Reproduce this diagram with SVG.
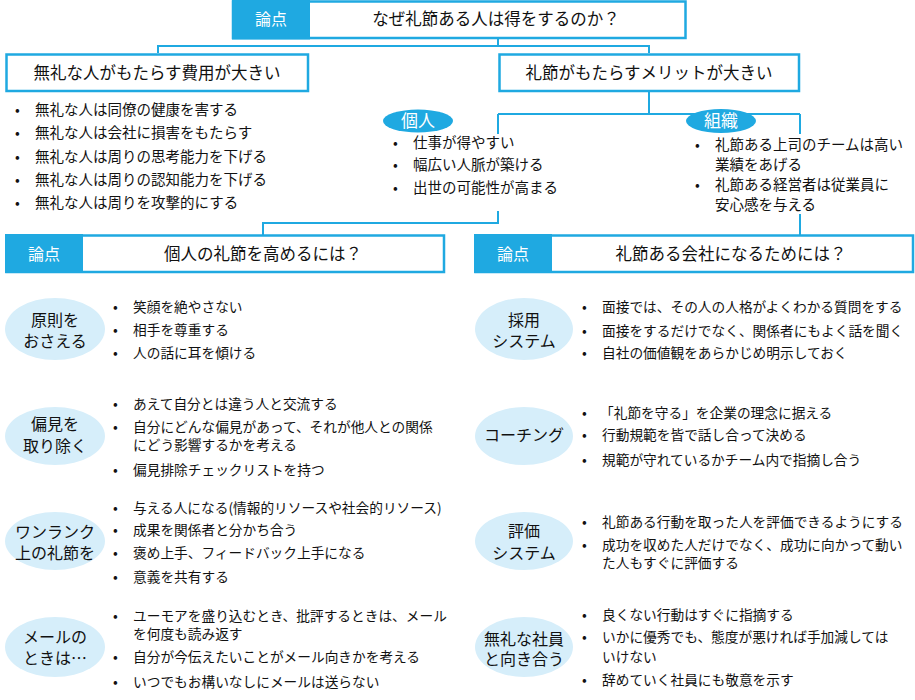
<svg xmlns="http://www.w3.org/2000/svg" width="915" height="700" viewBox="0 0 915 700">
<style>
text{font-family:"Noto Sans CJK JP","Noto Sans",sans-serif;fill:#111}
.box{fill:#fff;stroke:#1fa9e1;stroke-width:2.5}
.tag{fill:#1fa9e1}
.tagt{fill:#fff;font-size:16px;text-anchor:middle}
.h{font-size:16.5px;text-anchor:middle}
.b{font-size:14.5px}
.s{font-size:13.7px}
.bl{font-size:14px}
.conn{fill:none;stroke:#1fa9e1;stroke-width:2}
.pill{fill:#1fa9e1}
.pillt{fill:#fff;font-size:17px;text-anchor:middle}
.ov{fill:#d6eefa}
.ovt{font-size:16px;text-anchor:middle}
.mask{fill:#fff}
</style>
<g id="connectors">
<path class="conn" d="M498,39 V46 M158,53 V46 H649 V53"/>
<path class="conn" d="M649,92 V114 M498,114 H800 M498,114 V223 H263 V235 M800,114 V235"/>
</g>
<g id="q-main">
<rect class="box" x="233" y="1.5" width="452.5" height="36.5"/>
<rect class="tag" x="232" y="0" width="78" height="39.5"/>
<text class="tagt" x="271" y="25">論点</text>
<text class="h" x="496" y="25">なぜ礼節ある人は得をするのか？</text>
</g>
<g id="cost">
<rect class="box" x="6.5" y="54.5" width="301.5" height="36.5"/>
<text class="h" x="157" y="79">無礼な人がもたらす費用が大きい</text>
<g class="b">
<text x="15" y="115" class="bl">•</text><text x="35" y="115">無礼な人は同僚の健康を害する</text>
<text x="15" y="138" class="bl">•</text><text x="35" y="138">無礼な人は会社に損害をもたらす</text>
<text x="15" y="162" class="bl">•</text><text x="35" y="162">無礼な人は周りの思考能力を下げる</text>
<text x="15" y="185" class="bl">•</text><text x="35" y="185">無礼な人は周りの認知能力を下げる</text>
<text x="15" y="208" class="bl">•</text><text x="35" y="208">無礼な人は周りを攻撃的にする</text>
</g>
</g>
<g id="merit">
<rect class="box" x="499.5" y="54.5" width="299.5" height="36.5"/>
<text class="h" x="649" y="79">礼節がもたらすメリットが大きい</text>
</g>
<g id="individual">
<rect class="mask" x="390" y="134" width="175" height="77"/>
<ellipse class="pill" cx="418" cy="121" rx="35" ry="11.5"/>
<text class="pillt" x="418" y="127">個人</text>
<g class="b">
<text x="393" y="148" class="bl">•</text><text x="413" y="148">仕事が得やすい</text>
<text x="393" y="170" class="bl">•</text><text x="413" y="170">幅広い人脈が築ける</text>
<text x="393" y="193" class="bl">•</text><text x="413" y="193">出世の可能性が高まる</text>
</g>
</g>
<g id="organization">
<rect class="mask" x="690" y="134" width="215" height="80"/>
<ellipse class="pill" cx="721" cy="121" rx="35" ry="12"/>
<text class="pillt" x="721" y="127">組織</text>
<g class="b">
<text x="695" y="150" class="bl">•</text><text x="715" y="150">礼節ある上司のチームは高い<tspan x="715" y="170">業績をあげる</tspan></text>
<text x="695" y="190" class="bl">•</text><text x="715" y="190">礼節ある経営者は従業員に<tspan x="715" y="210">安心感を与える</tspan></text>
</g>
</g>
<g id="q-individual">
<rect class="box" x="6.5" y="235.5" width="437.5" height="36.5"/>
<rect class="tag" x="5" y="234" width="78" height="39"/>
<text class="tagt" x="44" y="260">論点</text>
<text class="h" x="263" y="260">個人の礼節を高めるには？</text>
</g>
<g id="q-company">
<rect class="box" x="475.5" y="235.5" width="437.5" height="36.5"/>
<rect class="tag" x="474" y="234" width="78" height="39"/>
<text class="tagt" x="513" y="260">論点</text>
<text class="h" x="731" y="260">礼節ある会社になるためには？</text>
</g>
<g id="principle">
<ellipse class="ov" cx="55" cy="329" rx="50" ry="31"/>
<text class="ovt" x="55" y="326">原則を<tspan x="55" y="347">おさえる</tspan></text>
<g class="s">
<text x="113" y="312" class="bl">•</text><text x="133" y="312">笑顔を絶やさない</text>
<text x="113" y="335" class="bl">•</text><text x="133" y="335">相手を尊重する</text>
<text x="113" y="358" class="bl">•</text><text x="133" y="358">人の話に耳を傾ける</text>
</g>
</g>
<g id="bias">
<ellipse class="ov" cx="55" cy="436" rx="50" ry="29"/>
<text class="ovt" x="55" y="430">偏見を<tspan x="55" y="452">取り除く</tspan></text>
<g class="s">
<text x="113" y="409" class="bl">•</text><text x="133" y="409">あえて自分とは違う人と交流する</text>
<text x="113" y="432" class="bl">•</text><text x="133" y="432">自分にどんな偏見があって、それが他人との関係<tspan x="133" y="450">にどう影響するかを考える</tspan></text>
<text x="113" y="475" class="bl">•</text><text x="133" y="475">偏見排除チェックリストを持つ</text>
</g>
</g>
<g id="rank">
<ellipse class="ov" cx="55" cy="541" rx="50" ry="29"/>
<text class="ovt" x="55" y="538">ワンランク<tspan x="55" y="559">上の礼節を</tspan></text>
<g class="s">
<text x="113" y="513" class="bl">•</text><text x="133" y="513">与える人になる(情報的リソースや社会的リソース)</text>
<text x="113" y="535" class="bl">•</text><text x="133" y="535">成果を関係者と分かち合う</text>
<text x="113" y="558" class="bl">•</text><text x="133" y="558">褒め上手、フィードバック上手になる</text>
<text x="113" y="582" class="bl">•</text><text x="133" y="582">意義を共有する</text>
</g>
</g>
<g id="mail">
<ellipse class="ov" cx="55" cy="647" rx="50" ry="30"/>
<text class="ovt" x="55" y="643">メールの<tspan x="55" y="664">ときは…</tspan></text>
<g class="s">
<text x="113" y="621" class="bl">•</text><text x="133" y="621">ユーモアを盛り込むとき、批評するときは、メール<tspan x="133" y="639">を何度も読み返す</tspan></text>
<text x="113" y="662" class="bl">•</text><text x="133" y="662">自分が今伝えたいことがメール向きかを考える</text>
<text x="113" y="687" class="bl">•</text><text x="133" y="687">いつでもお構いなしにメールは送らない</text>
</g>
</g>
<g id="hiring">
<ellipse class="ov" cx="524" cy="329" rx="49" ry="31"/>
<text class="ovt" x="524" y="326">採用<tspan x="524" y="347">システム</tspan></text>
<g class="s">
<text x="582" y="312" class="bl">•</text><text x="602" y="312">面接では、その人の人格がよくわかる質問をする</text>
<text x="582" y="336" class="bl">•</text><text x="602" y="336">面接をするだけでなく、関係者にもよく話を聞く</text>
<text x="582" y="358" class="bl">•</text><text x="602" y="358">自社の価値観をあらかじめ明示しておく</text>
</g>
</g>
<g id="coaching">
<ellipse class="ov" cx="524" cy="436" rx="49" ry="29"/>
<text class="ovt" x="524" y="441">コーチング</text>
<g class="s">
<text x="582" y="418" class="bl">•</text><text x="600" y="418">「礼節を守る」を企業の理念に据える</text>
<text x="582" y="440" class="bl">•</text><text x="602" y="440">行動規範を皆で話し合って決める</text>
<text x="582" y="465" class="bl">•</text><text x="602" y="465">規範が守れているかチーム内で指摘し合う</text>
</g>
</g>
<g id="evaluation">
<ellipse class="ov" cx="524" cy="541" rx="49" ry="29"/>
<text class="ovt" x="524" y="537">評価<tspan x="524" y="559">システム</tspan></text>
<g class="s">
<text x="582" y="527" class="bl">•</text><text x="602" y="527">礼節ある行動を取った人を評価できるようにする</text>
<text x="582" y="550" class="bl">•</text><text x="602" y="550">成功を収めた人だけでなく、成功に向かって動い<tspan x="602" y="568">た人もすぐに評価する</tspan></text>
</g>
</g>
<g id="rude">
<ellipse class="ov" cx="524" cy="647" rx="49" ry="30"/>
<text class="ovt" x="524" y="645">無礼な社員<tspan x="524" y="665">と向き合う</tspan></text>
<g class="s">
<text x="582" y="620" class="bl">•</text><text x="602" y="620">良くない行動はすぐに指摘する</text>
<text x="582" y="642" class="bl">•</text><text x="602" y="642">いかに優秀でも、態度が悪ければ手加減しては<tspan x="602" y="662">いけない</tspan></text>
<text x="582" y="685" class="bl">•</text><text x="602" y="685">辞めていく社員にも敬意を示す</text>
</g>
</g>
</svg>
